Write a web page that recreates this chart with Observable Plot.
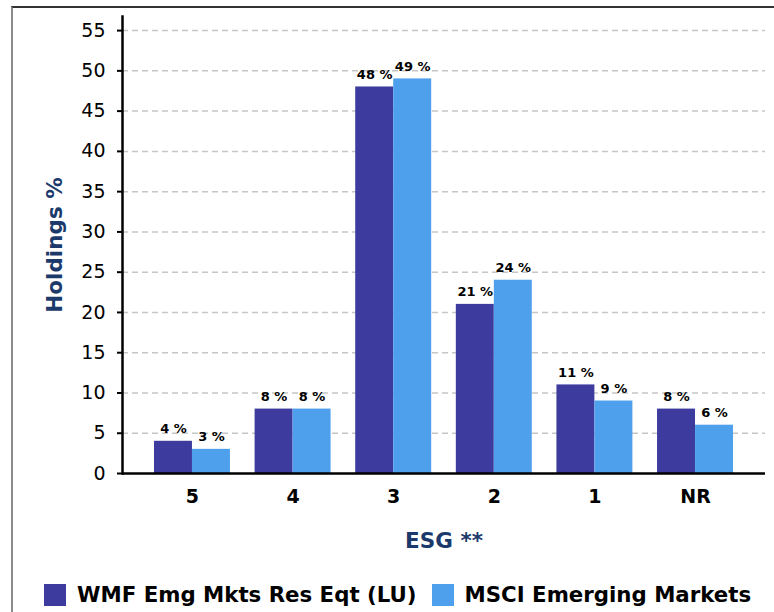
<!DOCTYPE html>
<html><head><meta charset="utf-8">
<script src="https://cdn.jsdelivr.net/npm/d3@7"></script>
<script src="https://cdn.jsdelivr.net/npm/@observablehq/plot@0.6"></script>
<style>
body{margin:0;background:#fff;font-family:"DejaVu Sans",sans-serif;}
#wrap{position:relative;width:774px;height:612px;overflow:hidden;background:#fff;}
#border{position:absolute;left:11px;top:6px;width:800px;height:700px;border-top:2px solid #333;border-left:2px solid #8a8a8a;}
#chart{position:absolute;left:0;top:0;}
#legend{position:absolute;left:44px;top:582px;display:flex;align-items:center;font-weight:bold;font-size:21.3px;color:#000;white-space:nowrap;}
#legend .sw{width:22px;height:22px;display:inline-block;margin-right:11px;}
#legend .item{display:flex;align-items:center;margin-right:15px;}
</style>
</head><body>
<div id="wrap"><div id="border"></div><div id="chart"></div><div id="legend"></div></div>
<script>
const categories = ["5", "4", "3", "2", "1", "NR"];
const seriesNames = ["WMF Emg Mkts Res Eqt (LU)", "MSCI Emerging Markets"];
const fundValues = [4, 8, 48, 21, 11, 8];
const benchValues = [3, 8, 49, 24, 9, 6];
const yTicks = [0, 5, 10, 15, 20, 25, 30, 35, 40, 45, 50, 55];
const colors = ["#3d3b9e", "#4fa0ec"];
const xLabel = "ESG **";
const yLabel = "Holdings %";

const fund = categories.map((c, i) => ({cat: c, v: fundValues[i]}));
const bench = categories.map((c, i) => ({cat: c, v: benchValues[i]}));

const chart = Plot.plot({
  width: 774, height: 560,
  marginLeft: 122, marginRight: 9, marginTop: 16, marginBottom: 87,
  style: {fontFamily: "DejaVu Sans", background: "transparent", overflow: "visible", color: "#000"},
  x: {domain: categories, paddingInner: 0.245, paddingOuter: 0.318, round: false, axis: null},
  y: {domain: [0, 56.75], axis: null},
  marks: [
    Plot.ruleY(yTicks.filter(t => t > 0), {stroke: "#c6c6c6", strokeDasharray: "6,4", strokeWidth: 1.5}),
    Plot.barY(fund, {x: "cat", y: "v", fill: colors[0], insetRight: 38}),
    Plot.barY(bench, {x: "cat", y: "v", fill: colors[1], insetLeft: 38}),
    Plot.text(fund, {x: "cat", y: "v", text: d => d.v + " %", dx: -19, dy: -8, lineAnchor: "bottom", fontSize: 13, fontWeight: "bold", fill: "#000"}),
    Plot.text(bench, {x: "cat", y: "v", text: d => d.v + " %", dx: 19, dy: -8, lineAnchor: "bottom", fontSize: 13, fontWeight: "bold", fill: "#000"}),
    Plot.axisY({ticks: yTicks, tickSize: 5, tickPadding: 12, fontSize: 19, strokeWidth: 2, tickFormat: d => String(d), label: null}),
    Plot.axisX({tickSize: 0, tickPadding: 16, fontSize: 19, fontWeight: "bold", label: null}),
    Plot.frame({anchor: "left", strokeWidth: 2.5, stroke: "#000"}),
    Plot.ruleY([0], {strokeWidth: 2.5, stroke: "#000"}),
    Plot.text([yLabel], {text: d => d, frameAnchor: "left", textAnchor: "middle", rotate: -90, dx: -67, fontSize: 21.5, fontWeight: "bold", fill: "#1b3a6b"}),
    Plot.text([xLabel], {text: d => d, frameAnchor: "bottom", dy: 74, fontSize: 21.5, fontWeight: "bold", fill: "#1b3a6b"})
  ]
});
document.getElementById("chart").appendChild(chart);

const legend = document.getElementById("legend");
seriesNames.forEach((name, i) => {
  const item = document.createElement("div");
  item.className = "item";
  const sw = document.createElement("span");
  sw.className = "sw";
  sw.style.background = colors[i];
  const t = document.createElement("span");
  t.textContent = name;
  item.appendChild(sw); item.appendChild(t);
  legend.appendChild(item);
});
</script>
</body></html>
